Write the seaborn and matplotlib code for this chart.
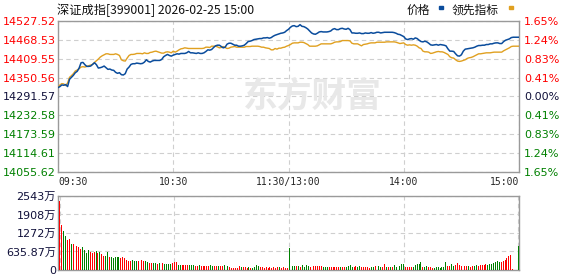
import numpy as np
import pandas as pd
import matplotlib
matplotlib.use("Agg")
import matplotlib.pyplot as plt
from matplotlib.patches import Rectangle
import seaborn as sns

# ---------------- data ----------------
title_text = "深证成指[399001] 2026-02-25 15:00"
series_names = ["价格", "领先指标"]
prev_close = 14291.57

price = [
    14319.4, 14322.6, 14327.7, 14326.7, 14328.8, 14322.6, 14345.3, 14351.5, 14357.7, 14366.0,
    14370.2, 14380.5, 14397.1, 14398.1, 14390.9, 14385.7, 14385.7, 14386.7, 14391.9, 14397.1,
    14390.9, 14380.5, 14381.6, 14383.6, 14386.7, 14381.6, 14376.4, 14377.4, 14374.3, 14373.3,
    14367.1, 14364.0, 14366.0, 14359.8, 14358.8, 14362.9, 14377.4, 14383.6, 14391.9, 14394.0,
    14394.0, 14396.0, 14395.0, 14394.0, 14395.0, 14399.1, 14406.4, 14401.2, 14399.1, 14402.3,
    14404.3, 14404.3, 14404.3, 14404.3, 14407.4, 14415.7, 14419.8, 14423.0, 14419.8, 14417.8,
    14420.9, 14423.0, 14425.0, 14424.0, 14426.1, 14426.1, 14426.1, 14428.1, 14432.3, 14428.1,
    14428.1, 14427.1, 14426.1, 14428.1, 14426.1, 14426.1, 14428.1, 14432.3, 14437.4, 14436.4,
    14438.5, 14444.7, 14449.9, 14451.9, 14451.9, 14447.8, 14443.7, 14445.7, 14455.0, 14458.1,
    14458.1, 14455.0, 14451.9, 14451.9, 14448.8, 14448.8, 14449.9, 14451.9, 14457.1, 14463.3,
    14464.4, 14466.4, 14469.5, 14470.5, 14471.6, 14472.6, 14472.6, 14474.7, 14474.7, 14475.7,
    14473.7, 14475.7, 14479.9, 14483.0, 14485.1, 14487.1, 14489.2, 14490.2, 14492.3, 14497.5,
    14501.6, 14507.8, 14512.0, 14513.0, 14509.9, 14510.9, 14516.1, 14510.9, 14509.9, 14506.8,
    14502.6, 14496.4, 14490.2, 14487.1, 14486.1, 14489.2, 14493.3, 14494.4, 14493.3, 14493.3,
    14493.3, 14494.4, 14496.4, 14501.6, 14503.7, 14500.6, 14500.6, 14503.7, 14504.7, 14502.6,
    14501.6, 14504.7, 14500.6, 14490.2, 14490.2, 14489.2, 14489.2, 14490.2, 14488.2, 14488.2,
    14490.2, 14489.2, 14489.2, 14491.3, 14489.2, 14490.2, 14492.3, 14492.3, 14490.2, 14491.3,
    14492.3, 14492.3, 14492.3, 14492.3, 14492.3, 14491.3, 14489.2, 14486.1, 14485.1, 14482.0,
    14478.8, 14471.6, 14469.5, 14471.6, 14472.6, 14470.5, 14474.7, 14472.6, 14467.4, 14463.3,
    14462.3, 14464.4, 14462.3, 14458.1, 14453.0, 14451.9, 14453.0, 14454.0, 14451.9, 14454.0,
    14453.0, 14451.9, 14449.9, 14440.5, 14433.3, 14433.3, 14432.3, 14425.0, 14418.8, 14417.8,
    14421.9, 14433.3, 14439.5, 14440.5, 14441.6, 14442.6, 14443.7, 14445.7, 14448.8, 14450.9,
    14450.9, 14451.9, 14451.9, 14454.0, 14454.0, 14456.1, 14456.1, 14458.1, 14459.2, 14459.2,
    14457.1, 14457.1, 14463.3, 14467.4, 14469.5, 14471.6, 14475.7, 14476.8, 14476.8, 14476.8,
    14476.8,
]

leading = [
    14319.4, 14327.7, 14331.9, 14330.8, 14325.7, 14333.9, 14351.5, 14356.7, 14362.9, 14371.2,
    14374.3, 14378.4, 14383.6, 14384.7, 14383.6, 14385.7, 14387.8, 14389.8, 14391.9, 14398.1,
    14403.3, 14408.5, 14414.7, 14418.8, 14421.9, 14425.0, 14425.0, 14423.0, 14423.0, 14423.0,
    14425.0, 14423.0, 14419.8, 14406.4, 14403.3, 14402.3, 14411.6, 14419.8, 14423.0, 14423.0,
    14424.0, 14426.1, 14426.1, 14426.1, 14425.0, 14428.1, 14426.1, 14426.1, 14429.2, 14430.2,
    14432.3, 14433.3, 14431.2, 14429.2, 14427.1, 14427.1, 14430.2, 14431.2, 14430.2, 14428.1,
    14433.3, 14430.2, 14433.3, 14437.4, 14440.5, 14441.6, 14443.7, 14442.6, 14441.6, 14441.6,
    14441.6, 14441.6, 14441.6, 14441.6, 14441.6, 14441.6, 14442.6, 14445.7, 14445.7, 14444.7,
    14448.8, 14448.8, 14448.8, 14446.8, 14443.7, 14444.7, 14447.8, 14444.7, 14441.6, 14442.6,
    14445.7, 14446.8, 14447.8, 14445.7, 14445.7, 14445.7, 14445.7, 14445.7, 14447.8, 14447.8,
    14447.8, 14448.8, 14448.8, 14448.8, 14448.8, 14447.8, 14445.7, 14445.7, 14443.7, 14442.6,
    14441.6, 14437.4, 14437.4, 14441.6, 14439.5, 14442.6, 14442.6, 14444.7, 14445.7, 14448.8,
    14450.9, 14454.0, 14458.1, 14459.2, 14459.2, 14459.2, 14461.2, 14461.2, 14460.2, 14457.1,
    14454.0, 14448.8, 14448.8, 14448.8, 14448.8, 14449.9, 14453.0, 14456.1, 14456.1, 14456.1,
    14456.1, 14456.1, 14456.1, 14458.1, 14461.2, 14462.3, 14462.3, 14463.3, 14466.4, 14466.4,
    14466.4, 14466.4, 14465.4, 14458.1, 14456.1, 14456.1, 14456.1, 14453.0, 14449.9, 14454.0,
    14455.0, 14456.1, 14458.1, 14459.2, 14459.2, 14459.2, 14461.2, 14461.2, 14461.2, 14461.2,
    14461.2, 14462.3, 14462.3, 14462.3, 14462.3, 14462.3, 14461.2, 14459.2, 14457.1, 14458.1,
    14459.2, 14454.0, 14451.9, 14453.0, 14451.9, 14453.0, 14451.9, 14448.8, 14443.7, 14441.6,
    14433.3, 14431.2, 14431.2, 14430.2, 14426.1, 14427.1, 14429.2, 14431.2, 14432.3, 14431.2,
    14431.2, 14429.2, 14426.1, 14423.0, 14415.7, 14412.6, 14411.6, 14406.4, 14402.3, 14401.2,
    14402.3, 14404.3, 14406.4, 14410.5, 14412.6, 14413.6, 14415.7, 14418.8, 14421.9, 14425.0,
    14425.0, 14426.1, 14427.1, 14428.1, 14428.1, 14428.1, 14429.2, 14430.2, 14430.2, 14430.2,
    14430.2, 14430.2, 14434.4, 14437.4, 14440.5, 14443.7, 14447.8, 14448.8, 14448.8, 14448.8,
    14448.8,
]

# volume in 万
volume = [
    2358, 1561, 1353, 1179, 1040, 1075, 902, 902, 763, 832,
    798, 728, 798, 694, 590, 694, 624, 590, 624, 659,
    590, 624, 555, 486, 486, 624, 451, 451, 416, 451,
    451, 451, 416, 451, 416, 347, 312, 312, 347, 312,
    312, 312, 277, 347, 312, 312, 277, 231, 231, 231,
    231, 208, 231, 208, 231, 208, 208, 208, 208, 231,
    277, 277, 173, 173, 173, 173, 173, 173, 173, 173,
    173, 139, 139, 173, 139, 139, 139, 139, 139, 173,
    139, 139, 139, 139, 139, 139, 173, 104, 139, 104,
    69, 69, 69, 69, 139, 104, 104, 104, 69, 104,
    69, 69, 104, 173, 139, 104, 104, 69, 104, 69,
    104, 69, 104, 69, 104, 104, 69, 104, 69, 69,
    763, 208, 139, 139, 139, 139, 104, 173, 104, 173,
    139, 104, 139, 139, 139, 139, 139, 139, 104, 104,
    104, 104, 104, 104, 104, 104, 104, 104, 104, 104,
    104, 139, 173, 104, 104, 139, 104, 139, 104, 104,
    104, 104, 69, 104, 104, 139, 173, 139, 104, 104,
    208, 104, 104, 104, 104, 173, 104, 104, 139, 208,
    208, 104, 104, 104, 104, 104, 173, 208, 208, 277,
    104, 104, 139, 104, 104, 69, 69, 104, 104, 69,
    104, 104, 277, 139, 139, 208, 139, 173, 243, 173,
    139, 139, 139, 139, 139, 104, 139, 139, 173, 139,
    173, 173, 173, 208, 173, 208, 208, 243, 277, 312,
    277, 277, 312, 347, 416, 486, 520, 35, 0, 0,
    832,
]

# R = up (red), G = down (green)
volume_dir = list(
    "RRGGRRGRRR" "RRGGGGRRRG" "RGRRGGRGGG" "GGRRRRRRGG" "GRRRRGGRRG"
    "GRGRRGGGGR" "RRGGRRRRGG" "GRRGRRRRRG" "GRRGRRGGGR" "RRRRRGRRRG"
    "RGGGGRRRRR" "RRRRRGRRRR" "GRGGRGRGGG" "GRRRRRRRGG" "GRRRRRRGRR"
    "GGGGRRGGRR" "RRRGGRRGGR" "RGRGRGGGGG" "GRRRRGGGGG" "RGGRRRGGGG"
    "GGGRRGGRRR" "RRRRGRRGGR" "RRRRGGGGGG" "GRRRRRRRRR" "G"
)

minutes = list(range(241))
time_ticks = [0, 60, 120, 180, 240]
time_labels = ["09:30", "10:30", "11:30/13:00", "14:00", "15:00"]

price_ticks = [14527.52, 14468.53, 14409.55, 14350.56, 14291.57,
               14232.58, 14173.59, 14114.61, 14055.62]
price_labels = ["14527.52", "14468.53", "14409.55", "14350.56", "14291.57",
                "14232.58", "14173.59", "14114.61", "14055.62"]
pct_labels = ["1.65%", "1.24%", "0.83%", "0.41%", "0.00%",
              "0.41%", "0.83%", "1.24%", "1.65%"]
vol_ticks = [0, 635.87, 1272, 1908, 2543]
vol_labels = ["0", "635.87万", "1272万", "1908万", "2543万"]

# ---------------- style ----------------
sns.set_theme(style="white")
plt.rcParams["font.family"] = ["DejaVu Sans", "Noto Sans CJK SC"]
plt.rcParams["axes.unicode_minus"] = False

RED = "#ff0000"
GREEN = "#008000"
DARK = "#10103a"
BLUE = "#0a4c9c"
GOLD = "#e0a020"
GRIDC = "#cfcfcf"
SPINE = "#9a9a9a"

W, H = 578, 276
fig = plt.figure(figsize=(W / 100, H / 100), dpi=100)

def fx(px):
    return px / W

def fy(py):
    return 1 - py / H

ax = fig.add_axes([fx(58), fy(172), fx(519) - fx(58), fy(21) - fy(172)])
axv = fig.add_axes([fx(58), fy(270), fx(519) - fx(58), fy(196) - fy(270)])

df = pd.DataFrame({"minute": minutes, "price": price, "leading": leading,
                   "volume": volume, "dir": volume_dir})

# watermark
fig.text(fx(312), fy(96), "东方财富", fontsize=25, fontweight="bold",
         color="#e8e8e8", ha="center", va="center",
         family=["Noto Sans CJK SC"], zorder=0)
ax.set_facecolor("none")

sns.lineplot(data=df, x="minute", y="leading", color=GOLD, linewidth=1.0,
             estimator=None, ax=ax, zorder=3)
sns.lineplot(data=df, x="minute", y="price", color=BLUE, linewidth=1.1,
             estimator=None, ax=ax, zorder=4)

ax.set_xlim(0, 240)
ax.set_ylim(price_ticks[-1], price_ticks[0])
ax.set_yticks(price_ticks)
ax.set_yticklabels(price_labels)
ax.set_xticks(time_ticks)
ax.set_xticklabels(time_labels, family=["DejaVu Sans Mono"], fontsize=7)
xl = ax.get_xticklabels()
xl[0].set_ha("left")
xl[-1].set_ha("right")
ax.tick_params(axis="y", length=0, pad=1.5, labelsize=8)
ax.tick_params(axis="x", length=0, pad=3.5, labelsize=7)
for i, t in enumerate(ax.get_yticklabels()):
    t.set_color(RED if i < 4 else (DARK if i == 4 else GREEN))
ax.set_xlabel("")
ax.set_ylabel("")
ax.grid(True, color=GRIDC, linestyle=(0, (4, 3)), linewidth=0.8)
for s in ax.spines.values():
    s.set_color(SPINE)
    s.set_linewidth(1.0)

axr = ax.twinx()
axr.set_ylim(ax.get_ylim())
axr.set_yticks(price_ticks)
axr.set_yticklabels(pct_labels)
axr.tick_params(axis="y", length=0, pad=3.5, labelsize=8)
for i, t in enumerate(axr.get_yticklabels()):
    t.set_color(RED if i < 4 else (DARK if i == 4 else GREEN))
axr.grid(False)
for s in axr.spines.values():
    s.set_visible(False)

# volume bars (categorical positions 0..240 = minutes)
sns.barplot(data=df, x="minute", y="volume", hue="dir",
            palette={"R": RED, "G": GREEN}, hue_order=["R", "G"],
            dodge=False, width=0.5, errorbar=None,
            saturation=1, legend=False, ax=axv, zorder=3)
for p in axv.patches:
    p.set_linewidth(0)
    p.set_edgecolor("none")
    p.set_alpha(1)
    p.set_antialiased(False)
axv.set_xlim(-0.9, 240.3)
axv.set_ylim(0, 2543)
axv.set_yticks(vol_ticks)
axv.set_yticklabels(vol_labels)
axv.set_xticks(time_ticks)
axv.set_xticklabels([])
axv.tick_params(axis="y", length=0, pad=1.5, labelsize=8, labelcolor=DARK)
axv.tick_params(axis="x", length=0)
axv.set_xlabel("")
axv.set_ylabel("")
axv.grid(True, color=GRIDC, linestyle=(0, (4, 3)), linewidth=0.8)
axv.set_axisbelow(True)
for s in axv.spines.values():
    s.set_color(SPINE)
    s.set_linewidth(1.0)

# title & legend
fig.text(fx(57), fy(10), title_text, fontsize=8.8, color="#111111",
         ha="left", va="center", family=["Noto Sans CJK SC", "DejaVu Sans"])
fig.text(fx(407), fy(10), series_names[0], fontsize=8.5, color="#111111",
         ha="left", va="center", family=["Noto Sans CJK SC"])
fig.patches.append(Rectangle((fx(439), fy(9)), fx(4), fy(6) - fy(9),
                             transform=fig.transFigure, color=BLUE))
fig.text(fx(452), fy(10), series_names[1], fontsize=8.5, color="#111111",
         ha="left", va="center", family=["Noto Sans CJK SC"])
fig.patches.append(Rectangle((fx(509), fy(9)), fx(4), fy(6) - fy(9),
                             transform=fig.transFigure, color=GOLD))

fig.savefig("out.png", dpi=100)
